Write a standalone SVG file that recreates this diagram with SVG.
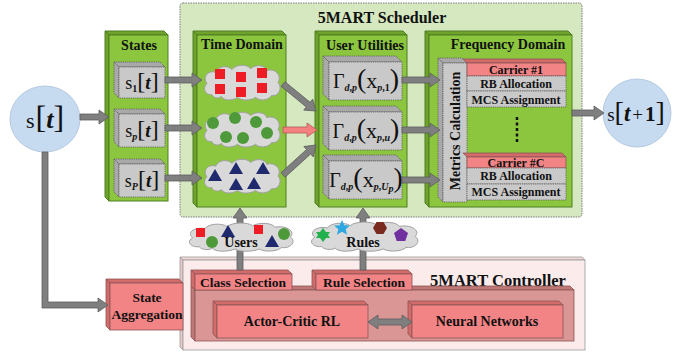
<svg xmlns="http://www.w3.org/2000/svg" xmlns:xlink="http://www.w3.org/1999/xlink" width="689" height="354" viewBox="0 0 689 354">
<style>
text{font-family:"Liberation Serif","Times New Roman",serif;fill:#111;}
.ttl{font-size:14px;font-weight:bold;text-anchor:middle;}
.big{font-size:16.5px;font-weight:bold;text-anchor:middle;}
.lbl{font-size:12px;font-weight:bold;text-anchor:middle;}
.gf{fill:#8CC63F;stroke:#4F7F22;stroke-width:1;}
.gs{fill:#6FA32C;stroke:#4F7F22;stroke-width:1;}
.yf{fill:#C9C9C9;stroke:#555;stroke-width:0.8;stroke-dasharray:1.2,1;}
.ys{fill:#A9A9A9;stroke:#555;stroke-width:0.8;stroke-dasharray:1.2,1;}
.pf{fill:#F28486;stroke:#8A5555;stroke-width:0.8;}
.ps{fill:#D46B6B;stroke:#8A5555;stroke-width:0.8;}
.df{fill:#D99694;stroke:#8A5555;stroke-width:0.8;}
.ds{fill:#C07877;stroke:#8A5555;stroke-width:0.8;}
.arr{fill:#7F7F7F;stroke:#5E5E5E;stroke-width:0.8;}
.arp{fill:#F4817F;stroke:#B05A5A;stroke-width:0.8;}
.cl{fill:#D9D9D9;stroke:#A0A0A0;stroke-width:1;}
.circ{fill:#C6DAF0;stroke:#B5C9E0;stroke-width:1;}
.sq{fill:#EE1C25;}
.dot{fill:#4E9A3A;}
.tri{fill:#1F2A6E;}
.s{font-size:18px;}
.sb{font-size:10px;font-weight:bold;font-style:italic;}
.sbn{font-size:10px;font-weight:bold;}
.br{font-size:24px;}
.ti{font-size:19px;font-weight:bold;font-style:italic;}
.gm{font-size:20px;}
.pr{font-size:28px;}
.xv{font-size:22px;}
</style>
<defs>
<symbol id="cloud" viewBox="0 0 100 40" preserveAspectRatio="none">
<path class="cl" vector-effect="non-scaling-stroke" d="M12,33 C4,34 0,26 6,21 C0,14 8,6 17,9 C20,2 32,1 37,6 C42,0 56,0 60,5 C66,0 78,1 80,7 C90,4 99,12 94,20 C100,26 94,36 86,34 C82,40 70,40 66,36 C60,40 48,40 44,36 C38,40 26,40 24,35 C20,38 14,37 12,33 Z"/>
</symbol>
</defs>

<g id="scheduler">
<rect x="180" y="3" width="402" height="214" rx="3" fill="#D5E8C0" stroke="#7A7A7A" stroke-width="1" stroke-dasharray="1.5,1"/>
<text class="big" x="382" y="23" style="font-size:16px">5MART Scheduler</text>
</g>

<g id="s-t">
<ellipse class="circ" cx="45" cy="119" rx="35" ry="33"/>
<text x="45" y="128" text-anchor="middle"><tspan font-size="22">s</tspan><tspan font-size="32" dx="1">[</tspan><tspan font-size="26" font-weight="bold" font-style="italic">t</tspan><tspan font-size="32">]</tspan></text>
</g>

<g id="s-t1">
<circle class="circ" cx="637" cy="113" r="34"/>
<text x="636" y="121" text-anchor="middle"><tspan font-size="19">s</tspan><tspan font-size="28">[</tspan><tspan font-size="23" font-weight="bold" font-style="italic">t</tspan><tspan font-size="19" dx="2">+</tspan><tspan font-size="21" font-weight="bold" dx="2">1</tspan><tspan font-size="28">]</tspan></text>
</g>

<g id="states">
<polygon class="gs" points="105,31 164,31 168,35 109,35"/>
<polygon class="gs" points="105,31 109,35 109,201 105,197"/>
<rect class="gf" x="109" y="35" width="59" height="166"/>
<text class="ttl" x="139" y="50">States</text>
</g>
<g id="state-1">
<polygon class="ys" points="114,62 160,62 165,67 119,67"/>
<polygon class="ys" points="114,62 119,67 119,98 114,93"/>
<rect class="yf" x="119" y="67" width="46" height="31"/>
<text x="142" y="89" text-anchor="middle"><tspan class="s">s</tspan><tspan class="sbn" dy="3">1</tspan><tspan class="br" dy="-3">[</tspan><tspan class="ti">t</tspan><tspan class="br">]</tspan></text>
</g>
<g id="state-p">
<polygon class="ys" points="114,109 160,109 165,114 119,114"/>
<polygon class="ys" points="114,109 119,114 119,147 114,142"/>
<rect class="yf" x="119" y="114" width="46" height="33"/>
<text x="142" y="137" text-anchor="middle"><tspan class="s">s</tspan><tspan class="sb" dy="3">p</tspan><tspan class="br" dy="-3">[</tspan><tspan class="ti">t</tspan><tspan class="br">]</tspan></text>
</g>
<g id="state-P">
<polygon class="ys" points="114,159 160,159 165,164 119,164"/>
<polygon class="ys" points="114,159 119,164 119,197 114,192"/>
<rect class="yf" x="119" y="164" width="46" height="33"/>
<text x="142" y="187" text-anchor="middle"><tspan class="s">s</tspan><tspan class="sb" dy="3">P</tspan><tspan class="br" dy="-3">[</tspan><tspan class="ti">t</tspan><tspan class="br">]</tspan></text>
</g>

<g id="time-domain">
<polygon class="gs" points="193,31 282,31 286,35 197,35"/>
<polygon class="gs" points="193,31 197,35 197,207 193,203"/>
<rect class="gf" x="197" y="35" width="89" height="172"/>
<text class="ttl" x="242" y="49">Time Domain</text>
</g>
<g id="cloud-squares">
<use xlink:href="#cloud" href="#cloud" x="202" y="64" width="81" height="37"/>
<rect class="sq" x="215" y="69" width="10" height="10"/>
<rect class="sq" x="236" y="72" width="10" height="10"/>
<rect class="sq" x="257" y="68" width="10" height="10"/>
<rect class="sq" x="215" y="84" width="10" height="10"/>
<rect class="sq" x="236" y="87" width="10" height="10"/>
<rect class="sq" x="257" y="83" width="10" height="10"/>
</g>
<g id="cloud-circles">
<use xlink:href="#cloud" href="#cloud" x="202" y="111" width="81" height="37"/>
<circle class="dot" cx="213" cy="123" r="6"/>
<circle class="dot" cx="235" cy="118" r="6"/>
<circle class="dot" cx="256" cy="122" r="6"/>
<circle class="dot" cx="226" cy="137" r="6"/>
<circle class="dot" cx="243" cy="138" r="6"/>
<circle class="dot" cx="267" cy="133" r="6"/>
</g>
<g id="cloud-triangles">
<use xlink:href="#cloud" href="#cloud" x="202" y="158" width="81" height="36"/>
<polygon class="tri" points="215,169 222,181 208,181"/>
<polygon class="tri" points="236,162 243,174 229,174"/>
<polygon class="tri" points="263,162 270,174 256,174"/>
<polygon class="tri" points="236,178 243,190 229,190"/>
<polygon class="tri" points="254,177 261,189 247,189"/>
</g>

<g id="user-utilities">
<polygon class="gs" points="315,31 403,31 407,35 319,35"/>
<polygon class="gs" points="315,31 319,35 319,207 315,203"/>
<rect class="gf" x="319" y="35" width="88" height="172"/>
<text class="ttl" x="365" y="50">User Utilities</text>
</g>
<g id="utility-1">
<polygon class="ys" points="323,56 396,56 402,62 329,62"/>
<polygon class="ys" points="323,56 329,62 329,100 323,94"/>
<rect class="yf" x="329" y="62" width="73" height="38"/>
<text x="366" y="88" text-anchor="middle"><tspan class="gm">Γ</tspan><tspan class="sb" dy="3">d</tspan><tspan class="sbn">,</tspan><tspan class="sb">p</tspan><tspan class="pr" dy="-3">(</tspan><tspan class="xv">x</tspan><tspan class="sb" dy="3">p</tspan><tspan class="sbn">,1</tspan><tspan class="pr" dy="-3">)</tspan></text>
</g>
<g id="utility-u">
<polygon class="ys" points="323,106 396,106 402,112 329,112"/>
<polygon class="ys" points="323,106 329,112 329,150 323,144"/>
<rect class="yf" x="329" y="112" width="73" height="38"/>
<text x="366" y="138" text-anchor="middle"><tspan class="gm">Γ</tspan><tspan class="sb" dy="3">d</tspan><tspan class="sbn">,</tspan><tspan class="sb">p</tspan><tspan class="pr" dy="-3">(</tspan><tspan class="xv">x</tspan><tspan class="sb" dy="3">p</tspan><tspan class="sbn">,</tspan><tspan class="sb">u</tspan><tspan class="pr" dy="-3">)</tspan></text>
</g>
<g id="utility-U">
<polygon class="ys" points="323,155 396,155 402,161 329,161"/>
<polygon class="ys" points="323,155 329,161 329,199 323,193"/>
<rect class="yf" x="329" y="161" width="73" height="38"/>
<text x="366" y="187" text-anchor="middle"><tspan class="gm">Γ</tspan><tspan class="sb" dy="3">d</tspan><tspan class="sbn">,</tspan><tspan class="sb">p</tspan><tspan class="pr" dy="-3">(</tspan><tspan class="xv">x</tspan><tspan class="sb" dy="3">p</tspan><tspan class="sbn">,</tspan><tspan class="sb">U</tspan><tspan class="sb" font-size="7" dy="2">p</tspan><tspan class="pr" dy="-5">)</tspan></text>
</g>

<g id="frequency-domain">
<polygon class="gs" points="425,31 568,31 572,35 429,35"/>
<polygon class="gs" points="425,31 429,35 429,207 425,203"/>
<rect class="gf" x="429" y="35" width="143" height="172"/>
<text class="ttl" x="508" y="49">Frequency Domain</text>
</g>
<g id="metrics">
<polygon class="ys" points="438,58 462,58 467,63 443,63"/>
<polygon class="ys" points="438,58 443,63 443,202 438,197"/>
<rect class="yf" x="443" y="63" width="24" height="139"/>
<text class="ttl" transform="translate(460,131) rotate(-90)" x="0" y="0">Metrics Calculation</text>
</g>
<g id="carrier-1">
<polygon class="ps" points="463,59 562,59 566,63 467,63"/>
<rect class="pf" x="467" y="63" width="99" height="13"/>
<rect class="yf" x="467" y="76" width="99" height="15"/>
<rect class="yf" x="467" y="91" width="99" height="16"/>
<text class="lbl" x="516" y="74">Carrier #1</text>
<text class="lbl" x="516" y="88">RB Allocation</text>
<text class="lbl" x="516" y="104">MCS Assignment</text>
</g>
<g id="carrier-dots">
<line x1="517" y1="117" x2="517" y2="142" stroke="#111" stroke-width="2.5" stroke-dasharray="3,2.5"/>
</g>
<g id="carrier-C">
<polygon class="ps" points="463,153 562,153 566,157 467,157"/>
<rect class="pf" x="467" y="157" width="99" height="11"/>
<rect class="yf" x="467" y="168" width="99" height="16"/>
<rect class="yf" x="467" y="184" width="99" height="16"/>
<text class="lbl" x="516" y="167">Carrier #C</text>
<text class="lbl" x="516" y="180">RB Allocation</text>
<text class="lbl" x="516" y="196">MCS Assignment</text>
</g>

<g id="controller">
<polygon fill="#F3DADA" stroke="#999" stroke-width="0.8" points="180,257 582,257 585,260 183,260"/>
<polygon fill="#EBCACA" stroke="#999" stroke-width="0.8" points="180,257 183,260 183,350 180,347"/>
<rect x="183" y="260" width="402" height="90" fill="#FBEBEB" stroke="#999" stroke-width="0.8"/>
<text class="big" x="498" y="286">5MART Controller</text>
</g>
<g id="controller-core">
<polygon class="ds" points="191,286 570,286 574,290 195,290"/>
<polygon class="ds" points="191,286 195,290 195,341 191,337"/>
<rect class="df" x="195" y="290" width="379" height="51"/>
</g>
<g id="class-selection">
<polygon class="ps" points="191,270 288,270 292,274 195,274"/>
<polygon class="ps" points="191,270 195,274 195,290 191,286"/>
<rect class="pf" x="195" y="274" width="97" height="16"/>
<text class="ttl" x="243" y="287" style="font-size:13.5px">Class Selection</text>
</g>
<g id="rule-selection">
<polygon class="ps" points="312,270 408,270 412,274 316,274"/>
<polygon class="ps" points="312,270 316,274 316,290 312,286"/>
<rect class="pf" x="316" y="274" width="96" height="16"/>
<text class="ttl" x="364" y="287" style="font-size:13.5px">Rule Selection</text>
</g>
<g id="actor-critic">
<polygon class="ps" points="213,301 364,301 368,305 217,305"/>
<polygon class="ps" points="213,301 217,305 217,338 213,334"/>
<rect class="pf" x="217" y="305" width="151" height="33"/>
<text class="ttl" x="292" y="326">Actor-Critic RL</text>
</g>
<g id="neural-networks">
<polygon class="ps" points="408,301 559,301 563,305 412,305"/>
<polygon class="ps" points="408,301 412,305 412,338 408,334"/>
<rect class="pf" x="412" y="305" width="151" height="33"/>
<text class="ttl" x="487" y="326">Neural Networks</text>
</g>
<g id="state-aggregation">
<polygon class="ps" points="106,279 179,279 183,283 110,283"/>
<polygon class="ps" points="106,279 110,283 110,330 106,326"/>
<rect class="pf" x="110" y="283" width="73" height="47"/>
<text class="ttl" x="147" y="302" style="font-size:13.5px">State</text>
<text class="ttl" x="147" y="319" style="font-size:13.5px">Aggregation</text>
</g>

<g id="connectors">
<polygon class="arr" points="80,114 99,114 99,110 109,117 99,124 99,120 80,120"/>
<polygon class="arr" points="165,77 192,77 192,73 202,80 192,87 192,83 165,83"/>
<polygon class="arr" points="165,125 192,125 192,121 202,128 192,135 192,131 165,131"/>
<polygon class="arr" points="165,175 192,175 192,171 202,178 192,185 192,181 165,181"/>
<polygon class="arr" transform="translate(283,84) rotate(39.3)" points="0,-3 32.6,-3 32.6,-7 42.6,0 32.6,7 32.6,3 0,3"/>
<polygon class="arp" points="283,127 307,127 307,123 317,130 307,137 307,133 283,133"/>
<polygon class="arr" transform="translate(283,175) rotate(-42.3)" points="0,-3 34.6,-3 34.6,-7 44.6,0 34.6,7 34.6,3 0,3"/>
<polygon class="arr" points="402,77 430,77 430,73 440,80 430,87 430,83 402,83"/>
<polygon class="arr" points="402,127 430,127 430,123 440,130 430,137 430,133 402,133"/>
<polygon class="arr" points="402,177 430,177 430,173 440,180 430,187 430,183 402,183"/>
<polygon class="arr" points="572,110 594,110 594,106 604,113 594,120 594,116 572,116"/>
<polygon class="arr" points="42,152 48,152 48,302 98,302 98,298 108,305 98,312 98,308 42,308"/>
<polygon class="arr" points="237,270 237,218 233,218 240,208 247,218 243,218 243,270"/>
<polygon class="arr" points="360,270 360,218 356,218 363,208 370,218 366,218 366,270"/>
<polygon class="arr" points="368,322 378,315 378,319 402,319 402,315 412,322 402,329 402,325 378,325 378,329"/>
</g>

<g id="users">
<use xlink:href="#cloud" href="#cloud" x="186" y="222" width="111" height="30"/>
<rect class="sq" x="196" y="228" width="9" height="9"/>
<polygon class="tri" points="228,225 235,237 221,237"/>
<rect class="sq" x="254" y="225" width="9" height="9"/>
<circle class="dot" cx="212" cy="242" r="6"/>
<polygon class="tri" points="272,235 279,247 265,247"/>
<circle class="dot" cx="284" cy="234" r="6"/>
<text class="ttl" x="241" y="247">Users</text>
</g>
<g id="rules">
<use xlink:href="#cloud" href="#cloud" x="308" y="221" width="114" height="31"/>
<polygon fill="#22B14C" points="323,228 326,232 330,232 328,235 330,238 326,238 323,242 320,238 316,238 318,235 316,232 320,232"/>
<polygon fill="#2EA8E0" points="342,220 344.4,225.2 350,225.5 345.7,229.2 347.1,234.8 342,231.8 336.9,234.8 338.3,229.2 334,225.5 339.6,225.2"/>
<polygon fill="#7B2A20" points="373,228 376.5,222 383.5,222 387,228 383.5,234 376.5,234"/>
<polygon fill="#7030A0" points="401,228 408,233 405.3,241 396.7,241 394,233"/>
<text class="ttl" x="363" y="247">Rules</text>
</g>
</svg>
